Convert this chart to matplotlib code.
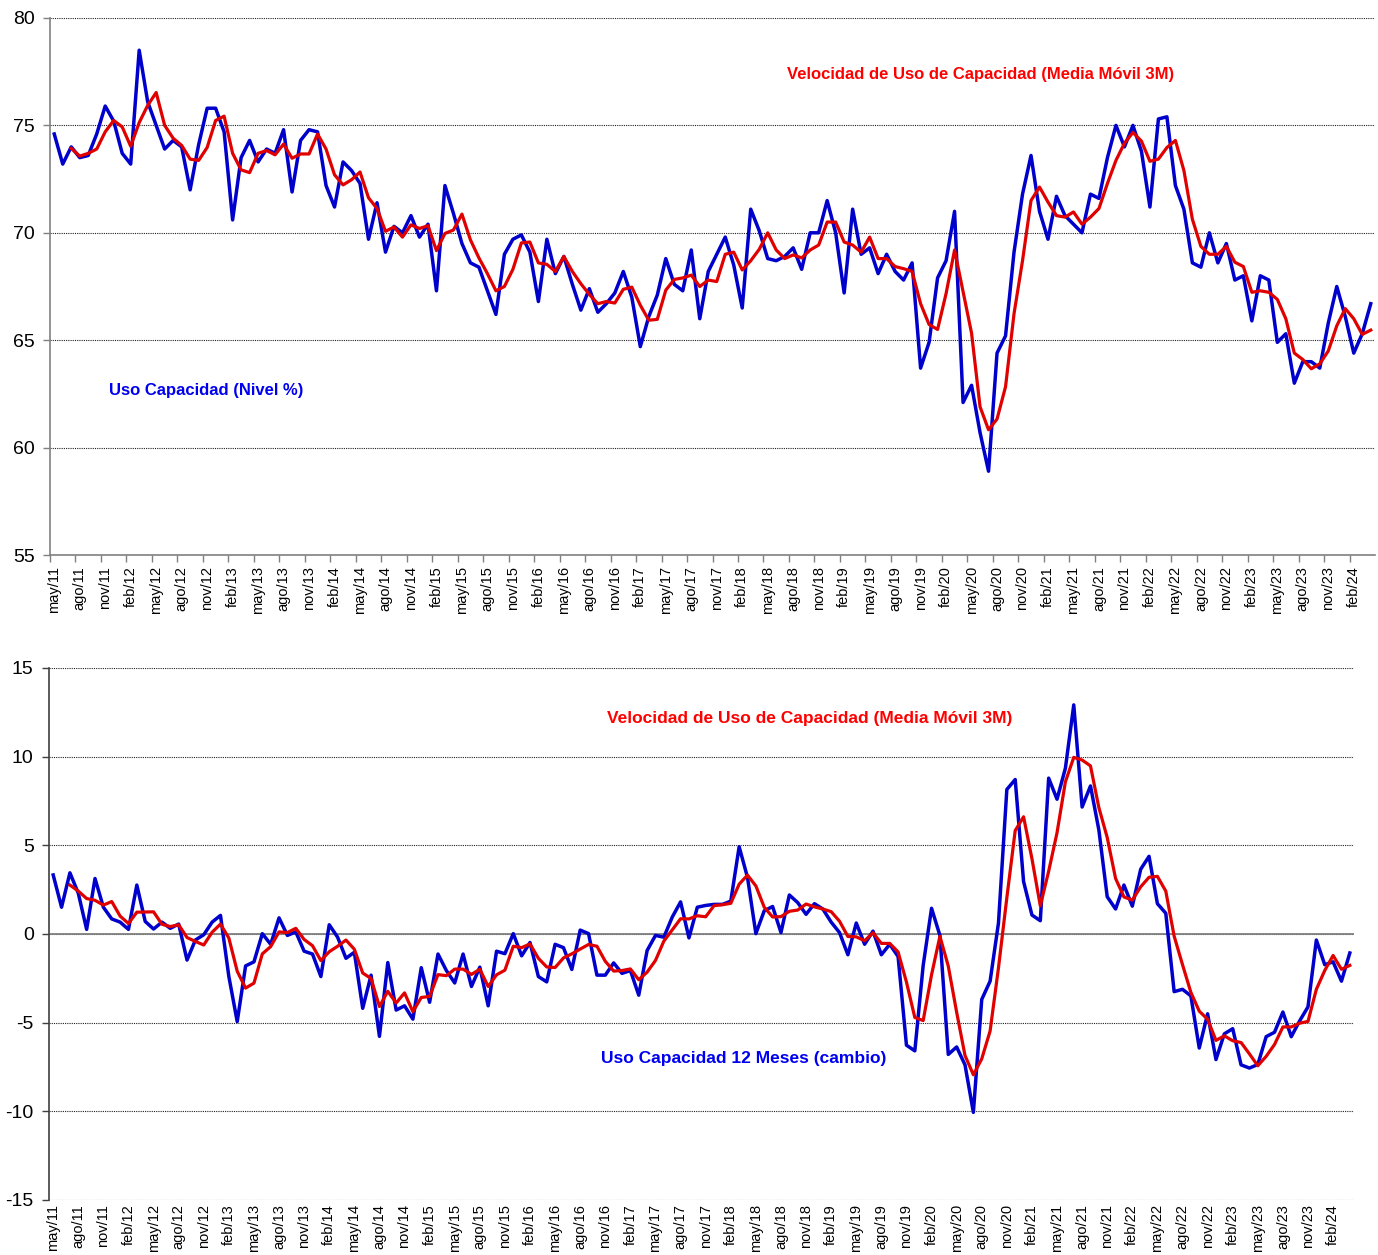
import numpy as np
import matplotlib.pyplot as plt

nan = np.nan

# Uso de capacidad (nivel %), mensual may/11 - abr/24
uso_nivel = [74.6, 73.2, 74.0, 73.5, 73.6, 74.6, 75.9, 75.2, 73.7, 73.2,
             78.5, 76.1, 75.0, 73.9, 74.3, 74.0, 72.0, 74.1, 75.8, 75.8,
             74.7, 70.6, 73.5, 74.3, 73.3, 73.9, 73.7, 74.8, 71.9, 74.3,
             74.8, 74.7, 72.2, 71.2, 73.3, 72.9, 72.3, 69.7, 71.4, 69.1,
             70.3, 70.0, 70.8, 69.8, 70.4, 67.3, 72.2, 70.9, 69.5, 68.6,
             68.4, 67.3, 66.2, 69.0, 69.7, 69.9, 69.1, 66.8, 69.7, 68.1,
             68.9, 67.6, 66.4, 67.4, 66.3, 66.7, 67.2, 68.2, 67.0, 64.7,
             66.1, 67.1, 68.8, 67.6, 67.3, 69.2, 66.0, 68.2, 69.0, 69.8,
             68.5, 66.5, 71.1, 70.1, 68.8, 68.7, 68.9, 69.3, 68.3, 70.0,
             70.0, 71.5, 70.0, 67.2, 71.1, 69.0, 69.3, 68.1, 69.0, 68.2,
             67.8, 68.6, 63.7, 64.9, 67.9, 68.7, 71.0, 62.1, 62.9, 60.7,
             58.9, 64.4, 65.2, 69.1, 71.8, 73.6, 71.0, 69.7, 71.7, 70.8,
             70.4, 70.0, 71.8, 71.6, 73.5, 75.0, 74.0, 75.0, 73.8, 71.2,
             75.3, 75.4, 72.2, 71.1, 68.6, 68.4, 70.0, 68.6, 69.5, 67.8,
             68.0, 65.9, 68.0, 67.8, 64.9, 65.3, 63.0, 64.0, 64.0, 63.7,
             65.8, 67.5, 66.1, 64.4, 65.3, 66.7]

# Velocidad (media movil 3M) del nivel
uso_nivel_mm3 = [nan, nan, 73.93, 73.57, 73.70, 73.90, 74.70, 75.23, 74.93, 74.03,
                 75.13, 75.93, 76.53, 75.00, 74.40, 74.07, 73.43, 73.37, 73.97, 75.23,
                 75.43, 73.70, 72.93, 72.80, 73.70, 73.83, 73.63, 74.13, 73.47, 73.67,
                 73.67, 74.60, 73.90, 72.70, 72.23, 72.47, 72.83, 71.63, 71.13, 70.07,
                 70.27, 69.80, 70.37, 70.20, 70.33, 69.17, 69.97, 70.13, 70.87, 69.67,
                 68.83, 68.10, 67.30, 67.50, 68.30, 69.53, 69.57, 68.60, 68.53, 68.20,
                 68.90, 68.20, 67.63, 67.13, 66.70, 66.80, 66.73, 67.37, 67.47, 66.63,
                 65.93, 65.97, 67.33, 67.83, 67.90, 68.03, 67.50, 67.80, 67.73, 69.00,
                 69.10, 68.27, 68.70, 69.23, 70.00, 69.20, 68.80, 68.97, 68.83, 69.20,
                 69.43, 70.50, 70.50, 69.57, 69.43, 69.10, 69.80, 68.80, 68.80, 68.43,
                 68.33, 68.20, 66.70, 65.73, 65.50, 67.17, 69.20, 67.27, 65.33, 61.90,
                 60.83, 61.33, 62.83, 66.23, 68.70, 71.50, 72.13, 71.43, 70.80, 70.73,
                 70.97, 70.40, 70.73, 71.13, 72.30, 73.37, 74.17, 74.67, 74.27, 73.33,
                 73.43, 73.97, 74.30, 72.90, 70.63, 69.37, 69.00, 69.00, 69.37, 68.63,
                 68.43, 67.23, 67.30, 67.23, 66.90, 66.00, 64.40, 64.10, 63.67, 63.90,
                 64.50, 65.67, 66.47, 66.00, 65.27, 65.47]

# Uso de capacidad, cambio en 12 meses (puntos)
uso_cambio = [3.33, 1.51, 3.45, 2.30, 0.26, 3.13, 1.51, 0.85, 0.67, 0.26,
              2.76, 0.71, 0.28, 0.67, 0.32, 0.56, -1.47, -0.34, -0.04, 0.67,
              1.05, -2.40, -4.94, -1.80, -1.57, 0.02, -0.58, 0.91, -0.08, 0.12,
              -0.97, -1.13, -2.40, 0.52, -0.18, -1.37, -1.03, -4.19, -2.32, -5.77,
              -1.61, -4.29, -4.05, -4.80, -1.90, -3.85, -1.13, -2.06, -2.76, -1.13,
              -2.96, -1.87, -4.05, -0.97, -1.11, 0.02, -1.23, -0.48, -2.40, -2.70,
              -0.58, -0.77, -2.00, 0.22, 0.02, -2.32, -2.32, -1.63, -2.22, -2.06,
              -3.45, -0.93, -0.08, -0.18, 0.95, 1.81, -0.22, 1.51, 1.61, 1.67,
              1.67, 1.85, 4.92, 3.19, 0.02, 1.31, 1.55, 0.08, 2.20, 1.77,
              1.11, 1.71, 1.41, 0.67, 0.08, -1.17, 0.62, -0.58, 0.16, -1.17,
              -0.58, -1.27, -6.27, -6.59, -1.77, 1.45, -0.08, -6.79, -6.37, -7.38,
              -10.06, -3.69, -2.66, 0.62, 8.15, 8.71, 2.96, 1.07, 0.75, 8.79,
              7.60, 9.35, 12.92, 7.16, 8.35, 5.87, 2.10, 1.41, 2.76, 1.57,
              3.65, 4.38, 1.71, 1.17, -3.25, -3.12, -3.49, -6.43, -4.50, -7.08,
              -5.63, -5.34, -7.38, -7.56, -7.36, -5.79, -5.54, -4.40, -5.79, -4.90,
              -4.11, -0.34, -1.73, -1.57, -2.66, -1.07]

# Velocidad (media movil 3M) del cambio en 12 meses
uso_cambio_mm3 = [nan, nan, 2.76, 2.42, 2.00, 1.90, 1.63, 1.83, 1.01, 0.59,
                  1.23, 1.24, 1.25, 0.55, 0.42, 0.52, -0.20, -0.42, -0.62, 0.10,
                  0.56, -0.23, -2.10, -3.05, -2.77, -1.12, -0.71, 0.12, 0.08, 0.32,
                  -0.31, -0.66, -1.50, -1.00, -0.69, -0.34, -0.86, -2.20, -2.51, -4.09,
                  -3.23, -3.89, -3.32, -4.38, -3.58, -3.52, -2.29, -2.35, -1.98, -1.98,
                  -2.28, -1.99, -2.96, -2.30, -2.04, -0.69, -0.77, -0.56, -1.37, -1.86,
                  -1.89, -1.35, -1.12, -0.85, -0.59, -0.69, -1.54, -2.09, -2.06, -1.97,
                  -2.58, -2.15, -1.49, -0.40, 0.23, 0.86, 0.85, 1.03, 0.97, 1.60,
                  1.65, 1.73, 2.81, 3.32, 2.71, 1.51, 0.96, 0.98, 1.28, 1.35,
                  1.69, 1.53, 1.41, 1.26, 0.72, -0.14, -0.16, -0.38, 0.07, -0.53,
                  -0.53, -1.01, -2.71, -4.71, -4.88, -2.30, -0.13, -1.81, -4.41, -6.85,
                  -7.94, -7.04, -5.47, -1.91, 2.04, 5.83, 6.61, 4.25, 1.59, 3.54,
                  5.71, 8.58, 9.96, 9.81, 9.48, 7.13, 5.44, 3.13, 2.09, 1.91,
                  2.66, 3.20, 3.25, 2.42, -0.12, -1.73, -3.29, -4.35, -4.81, -6.00,
                  -5.74, -6.02, -6.12, -6.76, -7.43, -6.90, -6.23, -5.24, -5.24, -5.03,
                  -4.93, -3.12, -2.06, -1.21, -1.99, -1.77]

tick_labels = ['may/11', 'ago/11', 'nov/11',
               'feb/12', 'may/12', 'ago/12', 'nov/12',
               'feb/13', 'may/13', 'ago/13', 'nov/13',
               'feb/14', 'may/14', 'ago/14', 'nov/14',
               'feb/15', 'may/15', 'ago/15', 'nov/15',
               'feb/16', 'may/16', 'ago/16', 'nov/16',
               'feb/17', 'may/17', 'ago/17', 'nov/17',
               'feb/18', 'may/18', 'ago/18', 'nov/18',
               'feb/19', 'may/19', 'ago/19', 'nov/19',
               'feb/20', 'may/20', 'ago/20', 'nov/20',
               'feb/21', 'may/21', 'ago/21', 'nov/21',
               'feb/22', 'may/22', 'ago/22', 'nov/22',
               'feb/23', 'may/23', 'ago/23', 'nov/23',
               'feb/24']

BLUE = '#0000CC'
RED = '#E00000'
TXT_BLUE = '#0000F0'
TXT_RED = '#FF0000'

plt.rcParams['font.family'] = ['Liberation Sans', 'DejaVu Sans']
plt.rcParams['axes.unicode_minus'] = False

W, H = 1378, 1255
fig = plt.figure(figsize=(W / 100, H / 100), dpi=100)

x = np.arange(len(uso_nivel))
tick_pos = np.arange(0, len(uso_nivel), 3)[:len(tick_labels)]


def style_axis(ax, ylo, yhi, spine_color, xpad):
    ax.set_xlim(-0.5, len(uso_nivel) - 0.5)
    ax.set_ylim(ylo, yhi)
    ax.set_yticks(np.arange(ylo, yhi + 1, 5))
    ax.yaxis.grid(True, linestyle=(0, (1, 1)), color='#202020', linewidth=0.8)
    ax.set_axisbelow(True)
    ax.set_xticks(tick_pos)
    ax.set_xticklabels(tick_labels, rotation=90, fontsize=10.5)
    ax.tick_params(axis='x', length=0, pad=xpad)
    ax.tick_params(axis='y', labelsize=14, length=5, width=1, color=spine_color, pad=6)
    for s in ['top', 'right']:
        ax.spines[s].set_visible(False)
    ax.spines['left'].set_color(spine_color)
    ax.spines['left'].set_linewidth(1.2)


# ---- panel superior: nivel
ax1 = fig.add_axes([50 / W, 1 - 555 / H, 1325 / W, 537 / H])
style_axis(ax1, 55, 80, '#808080', 8)
ax1.spines['bottom'].set_color('#808080')
ax1.spines['bottom'].set_linewidth(1.2)
ax1.set_xticks(tick_pos - 0.5, minor=True)
ax1.tick_params(axis='x', which='minor', length=5, width=1, color='#808080')

ax1.plot(x, uso_nivel, color=BLUE, linewidth=2.5)
ax1.plot(x, uso_nivel_mm3, color=RED, linewidth=2.3)

ax1.text(109.1, 77.35, 'Velocidad de Uso de Capacidad (Media Móvil 3M)',
         color=TXT_RED, fontsize=12, fontweight='bold', ha='center', va='center')
ax1.text(17.9, 62.68, 'Uso Capacidad (Nivel %)',
         color=TXT_BLUE, fontsize=12, fontweight='bold', ha='center', va='center')

# ---- panel inferior: cambio 12 meses
ax2 = fig.add_axes([49 / W, 1 - 1200 / H, 1305 / W, 532 / H])
style_axis(ax2, -15, 15, '#404040', 3)
ax2.spines['bottom'].set_visible(False)
ax2.axhline(0, color='#808080', linewidth=1.3, zorder=1)

ax2.plot(x, uso_cambio, color=BLUE, linewidth=2.5)
ax2.plot(x, uso_cambio_mm3, color=RED, linewidth=2.3)

ax2.text(90.4, 12.18, 'Velocidad de Uso de Capacidad (Media Móvil 3M)',
         color=TXT_RED, fontsize=12.5, fontweight='bold', ha='center', va='center')
ax2.text(82.5, -7.0, 'Uso Capacidad 12 Meses (cambio)',
         color=TXT_BLUE, fontsize=12.5, fontweight='bold', ha='center', va='center')

fig.savefig('out.png', dpi=100)
